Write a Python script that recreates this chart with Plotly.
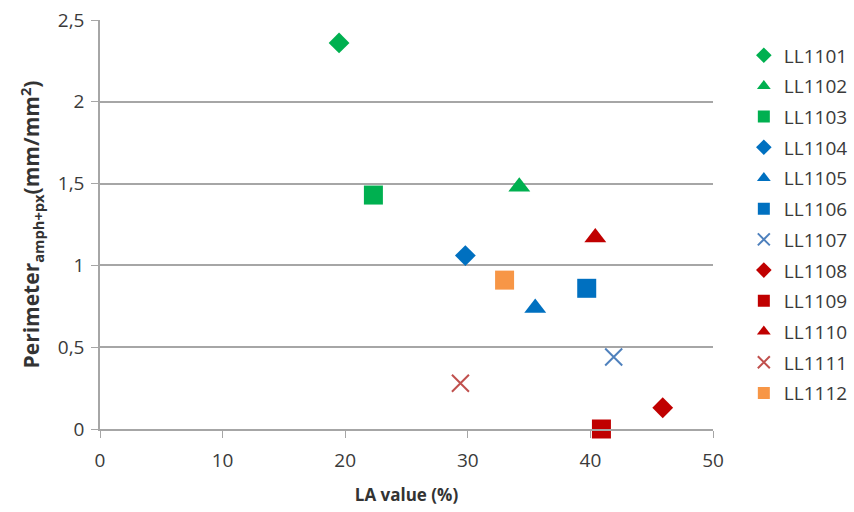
import plotly.graph_objects as go

# Sample names and their measured values
samples = ["LL1101", "LL1102", "LL1103", "LL1104", "LL1105", "LL1106",
           "LL1107", "LL1108", "LL1109", "LL1110", "LL1111", "LL1112"]
la_value = [19.5, 34.2, 22.3, 29.8, 35.5, 39.7, 41.9, 45.9, 40.9, 40.4, 29.4, 33.0]
perimeter = [2.36, 1.48, 1.43, 1.06, 0.74, 0.86, 0.44, 0.13, 0.0, 1.17, 0.28, 0.91]

# Marker styles per sample
symbols = ["diamond", "triangle-up", "square", "diamond", "triangle-up", "square",
           "x-thin", "diamond", "square", "triangle-up", "x-thin", "square"]
colors = ["#00B050", "#00B050", "#00B050", "#0070C0", "#0070C0", "#0070C0",
          "#4F81BD", "#C00000", "#C00000", "#C00000", "#C0504D", "#F79646"]
sizes = {"diamond": 16, "triangle-up": 19, "square": 19, "x-thin": 17}

FONT = "Open Sans"
TEXT = "#3a3a3a"

fig = go.Figure()
for name, x, y, sym, col in zip(samples, la_value, perimeter, symbols, colors):
    marker = dict(symbol=sym, size=sizes[sym], color=col)
    if sym == "x-thin":
        marker["line"] = dict(color=col, width=2)
    else:
        marker["line"] = dict(width=0)
    fig.add_trace(go.Scatter(
        x=[x], y=[y], mode="markers", name=name, marker=marker,
        cliponaxis=False, legendgroup=name,
    ))

fig.update_layout(
    width=854, height=512,
    margin=dict(l=100, r=141, t=20, b=83),
    paper_bgcolor="white", plot_bgcolor="white",
    separators=", ",
    font=dict(family=FONT, size=19, color=TEXT),
    showlegend=True,
    legend=dict(
        xref="container",
        x=0.871, y=0.96, xanchor="left", yanchor="top",
        font=dict(family=FONT, size=19, color=TEXT),
        itemwidth=30, tracegroupgap=3, itemsizing="constant",
        bgcolor="rgba(0,0,0,0)",
    ),
    xaxis=dict(
        range=[0, 50], dtick=10, tick0=0, automargin=False,
        showgrid=False, zeroline=False,
        showline=True, linecolor="#A6A6A6", linewidth=1.5,
        ticks="outside", ticklen=7, tickcolor="#A6A6A6",
        ticklabelstandoff=6,
        tickfont=dict(family=FONT, size=19, color=TEXT),
        title=dict(text="<b>LA value (%)</b>", standoff=18,
                   font=dict(family=FONT, size=17, color="#333333")),
    ),
    yaxis=dict(
        range=[0, 2.5], dtick=0.5, tick0=0, automargin=False,
        showgrid=True, gridcolor="#A6A6A6", gridwidth=1.5,
        zeroline=False,
        showline=True, linecolor="#A6A6A6", linewidth=1.5,
        ticks="outside", ticklen=7, tickcolor="#A6A6A6",
        ticklabelstandoff=3,
        tickfont=dict(family=FONT, size=19, color=TEXT),
        title=dict(text="<b>Perimeter<sub>amph+px</sub>(mm/mm<sup>2</sup>)</b>",
                   standoff=12,
                   font=dict(family=FONT, size=21, color="#333333")),
    ),
)

fig.write_html("out.html")
